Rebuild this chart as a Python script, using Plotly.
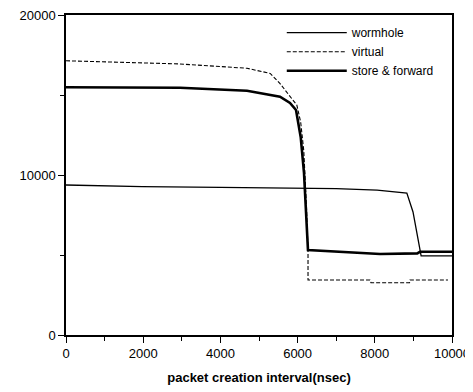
import plotly.graph_objects as go

wormhole_x = [0, 1970, 4000, 6060, 7000, 8060, 8830, 8990, 9170, 9200, 10000]
wormhole_y = [9375, 9270, 9230, 9200, 9150, 9060, 8875, 7690, 5190, 4940, 4940]

virtual_x = [0, 1790, 2950, 4690, 5290, 5540, 5800, 5980, 6080, 6160, 6230, 6270, 6270, 7000, 7876, 7900, 8900, 8912, 9896]
virtual_y = [17140, 17020, 16940, 16670, 16350, 15730, 14900, 14370, 13300, 11500, 8000, 5300, 3437, 3437, 3437, 3270, 3270, 3437, 3437]

store_x = [0, 2953, 4689, 5544, 5803, 5959, 6080, 6166, 6269, 7280, 8135, 9100, 9170, 10000]
store_y = [15480, 15456, 15269, 14894, 14500, 14062, 12375, 10125, 5312, 5170, 5062, 5100, 5200, 5200]

x_ticks = [0, 2000, 4000, 6000, 8000, 10000]
x_labels = ["0", "2000", "4000", "6000", "8000", "10000"]
y_ticks = [0, 10000, 20000]
y_labels = ["0", "10000", "20000"]

font = "Liberation Sans, Arial, sans-serif"

fig = go.Figure()
fig.add_trace(go.Scatter(x=wormhole_x, y=wormhole_y, mode="lines", name="wormhole",
                         line=dict(color="black", width=1.3)))
fig.add_trace(go.Scatter(x=virtual_x, y=virtual_y, mode="lines", name="virtual",
                         line=dict(color="black", width=1.1, dash="4px,2px")))
fig.add_trace(go.Scatter(x=store_x, y=store_y, mode="lines", name="store & forward",
                         line=dict(color="black", width=2.6)))

fig.update_layout(
    width=465, height=384,
    margin=dict(l=58, r=21, t=7, b=57, autoexpand=False),
    paper_bgcolor="white", plot_bgcolor="white",
    font=dict(family=font, size=13, color="black"),
    showlegend=True,
    legend=dict(x=0.559, y=0.99, xanchor="left", yanchor="top",
                bgcolor="rgba(0,0,0,0)", font=dict(size=12, family=font),
                tracegroupgap=0, itemwidth=60),
    xaxis=dict(range=[0, 10000], tickvals=x_ticks, ticktext=x_labels, ticks="outside", ticklen=6,
               tickwidth=1.2, tickcolor="black", showline=True, linecolor="black",
               linewidth=1.5, mirror=True, showgrid=False, zeroline=False, automargin=False,
               ticklabeloverflow="allow",
               minor=dict(dtick=1000, ticks="outside", ticklen=4, tickcolor="black"),
               title=dict(text="<b>packet creation interval(nsec)</b>",
                          font=dict(size=13, family=font), standoff=13),
               tickfont=dict(size=13)),
    yaxis=dict(range=[0, 20000], tickvals=y_ticks, ticktext=y_labels, ticks="outside", ticklen=6,
               tickwidth=1.2, tickcolor="black", showline=True, linecolor="black",
               linewidth=1.5, mirror=True, showgrid=False, zeroline=False, automargin=False,
               ticklabeloverflow="allow",
               minor=dict(dtick=5000, ticks="outside", ticklen=4, tickcolor="black"),
               tickfont=dict(size=13)),
)

fig.write_html("out.html")
